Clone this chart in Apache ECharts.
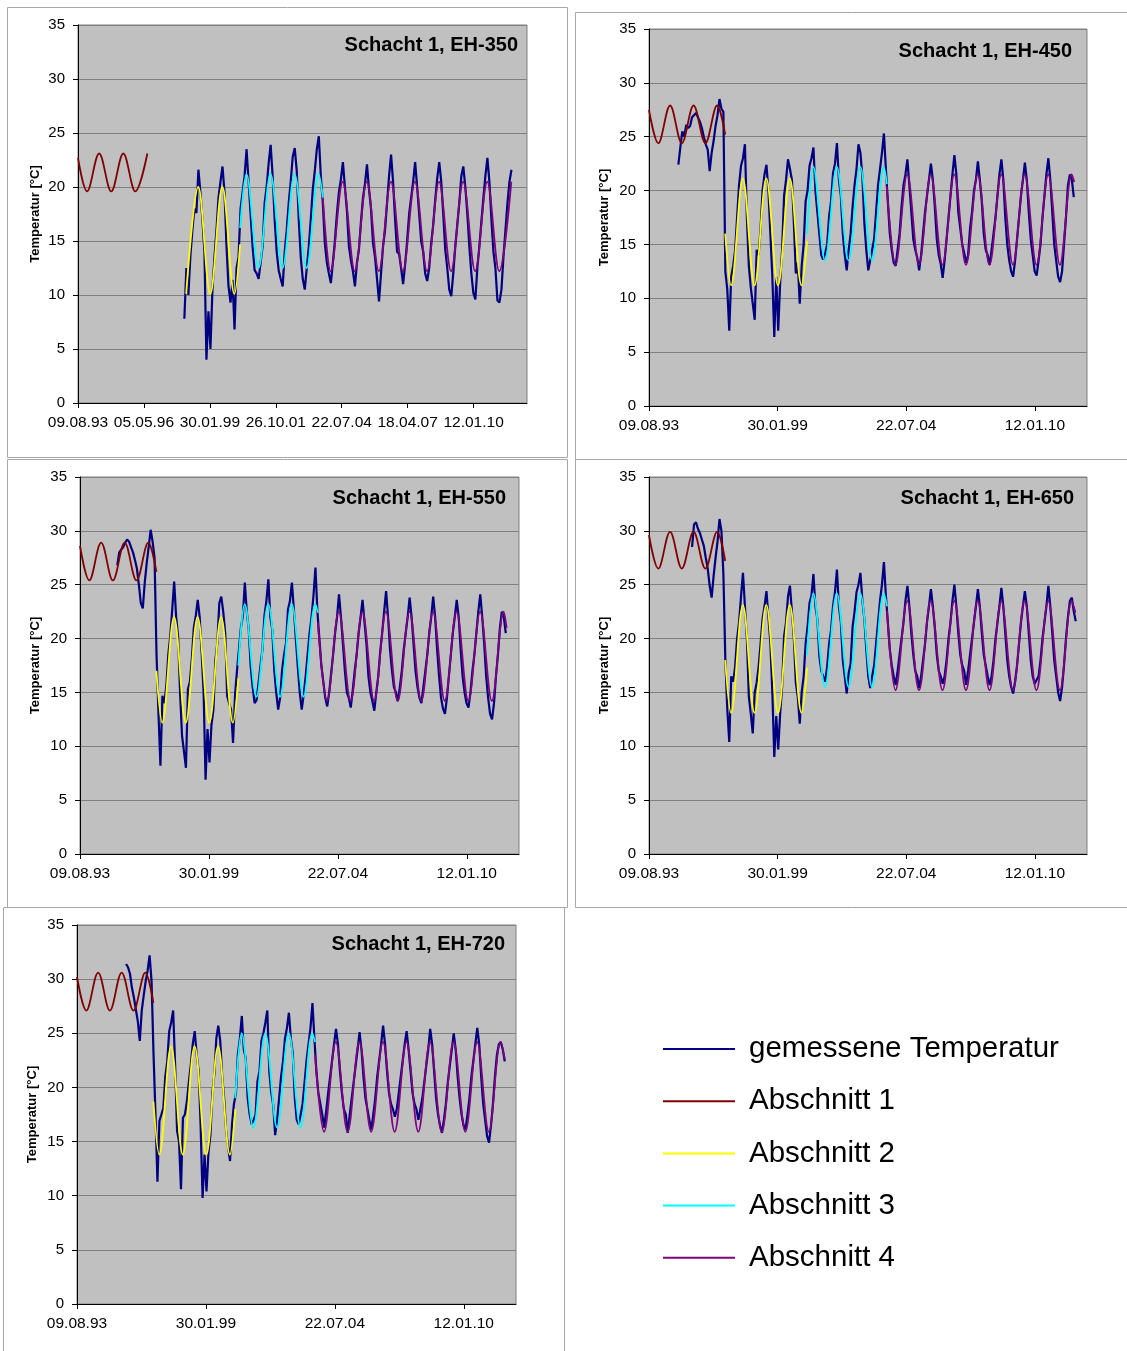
<!DOCTYPE html>
<html><head><meta charset="utf-8">
<script src="https://cdn.jsdelivr.net/npm/echarts/dist/echarts.min.js"></script>
<style>html,body{margin:0;padding:0;background:#fff}#c{width:1127px;height:1351px}</style>
</head><body><div id="c"></div>
<script>
// ---------- data ----------
const MONTH = 365.25 / 12;           // sampling step of the measured series (days)
const xTickLabels = ['09.08.93','05.05.96','30.01.99','26.10.01','22.07.04','18.04.07','12.01.10'];
const panelTitles = ['Schacht 1, EH-350','Schacht 1, EH-450','Schacht 1, EH-550','Schacht 1, EH-650','Schacht 1, EH-720'];
const legendNames = ['gemessene Temperatur','Abschnitt 1','Abschnitt 2','Abschnitt 3','Abschnitt 4'];

// measured temperature, monthly samples, first month index (months since 09.08.93)
const meas350Start = 53;
const meas350 = [
 7.8,12.5,10.0,13.6,16.0,18.0,17.6,21.6,19.5,17.0,14.0,4.0,
 8.5,5.0,10.5,13.5,16.0,19.0,20.5,21.9,19.5,14.5,10.8,9.3,
 11.4,6.8,12.5,13.5,18.0,19.5,21.0,23.5,20.5,17.5,14.5,12.3,
 12.0,11.5,13.0,14.5,18.5,20.0,22.2,23.9,21.0,17.0,14.0,12.3,
 11.5,10.8,14.0,16.0,18.5,20.5,22.8,23.6,21.5,17.0,13.5,11.5,
 10.5,12.5,14.5,17.0,19.8,21.5,23.5,24.7,21.0,18.5,14.8,13.0,
 12.0,11.1,13.0,15.0,17.5,19.5,20.7,22.3,20.0,17.8,14.5,13.2,
 12.2,10.8,13.0,14.2,16.8,19.0,20.3,22.1,19.8,18.0,14.8,13.5,
 11.5,9.4,12.0,14.5,16.0,18.5,21.0,23.0,20.5,17.0,14.0,13.8,
 12.5,11.0,12.8,15.0,17.5,19.0,20.5,22.3,20.0,17.5,15.0,14.0,
 12.0,11.3,12.5,14.8,16.5,18.8,20.8,22.3,20.5,17.5,14.2,12.5,
 10.5,9.9,12.0,14.5,16.5,18.5,21.0,21.9,20.0,17.5,14.5,12.0,
 10.2,9.6,12.5,14.5,16.8,19.0,21.0,22.7,20.5,17.0,14.0,12.5,
 9.5,9.3,10.5,13.5,16.0,18.5,20.5,21.6];
const meas450Start = 15;
const meas450 = [
 22.4,24.0,25.5,25.0,26.1,25.8,26.0,26.8,26.9,27.2,26.8,26.4,
 25.8,25.0,24.3,23.8,21.8,23.5,24.6,26.0,27.0,28.5,27.6,27.3,
 12.5,10.8,7.0,12.0,13.0,14.5,17.5,20.5,22.3,23.0,24.3,17.5,
 13.0,11.0,9.5,8.0,14.5,14.0,16.5,20.0,21.5,22.4,20.0,16.0,
 12.0,6.4,12.0,7.0,11.5,14.5,19.5,21.0,22.9,22.0,21.0,17.0,
 12.3,13.3,9.5,13.0,15.0,19.0,20.0,22.3,23.0,24.0,20.0,18.0,
 16.0,14.0,13.6,14.2,15.0,17.6,19.0,21.6,22.5,24.4,21.0,19.5,
 16.0,14.0,12.6,14.5,16.0,18.5,20.5,22.0,24.3,23.5,21.3,17.0,
 14.5,12.6,13.5,14.5,15.5,18.0,20.5,22.0,23.5,25.3,22.0,19.0,
 16.0,14.5,13.3,13.0,14.5,16.0,18.5,20.5,21.5,22.9,20.5,18.0,
 15.5,14.5,13.8,12.6,14.0,16.0,18.0,19.5,21.0,22.5,21.0,18.5,
 15.5,14.0,13.2,11.9,13.5,15.5,17.5,19.5,21.5,23.3,21.5,18.0,
 16.5,15.0,14.2,13.3,14.0,16.5,18.0,20.0,21.0,22.7,21.0,19.0,
 16.0,14.5,14.0,13.1,14.5,16.0,17.5,19.5,21.5,22.9,21.0,17.5,
 15.0,13.5,12.5,12.0,13.5,15.5,17.5,19.5,21.0,22.6,21.0,18.0,
 15.5,14.0,12.5,12.1,13.5,15.0,17.5,19.5,21.5,23.0,21.0,18.0,
 15.0,13.5,12.0,11.5,12.5,15.0,17.5,20.5,21.5,21.0,19.4];
const meas550Start = 19;
const meas550 = [
 26.8,28.0,27.9,28.5,28.9,29.2,29.0,28.5,28.0,27.3,26.5,25.0,
 23.3,22.8,25.2,27.0,28.5,30.1,29.0,27.5,18.5,13.0,8.2,14.7,
 14.0,15.6,18.5,20.2,22.7,25.3,22.0,20.2,15.0,11.0,9.5,8.0,
 15.3,16.0,18.1,21.0,22.1,23.6,22.0,18.7,15.0,6.9,11.6,8.5,
 12.0,13.4,18.0,19.6,23.3,23.9,22.5,20.5,14.7,14.0,13.4,10.3,
 14.7,17.0,19.0,21.0,22.1,25.2,22.5,20.8,17.4,15.5,14.0,14.3,
 15.9,17.5,19.0,22.1,23.5,25.5,22.0,20.8,17.1,15.0,13.4,14.5,
 17.1,18.5,19.6,22.7,23.5,25.2,22.7,20.0,17.4,15.0,13.4,14.8,
 16.5,18.5,20.5,22.0,24.0,26.6,22.5,20.0,17.5,16.0,14.5,13.7,
 15.0,16.8,18.5,20.5,22.0,24.1,22.0,19.5,17.0,15.0,14.5,13.6,
 15.2,17.0,18.5,20.5,22.0,23.6,21.5,19.5,16.5,15.0,14.2,13.3,
 15.0,16.5,18.8,20.5,22.5,24.4,22.0,19.0,17.0,15.5,15.0,14.2,
 15.5,17.0,19.0,20.5,22.0,23.8,22.0,19.5,17.0,15.5,14.5,14.0,
 15.5,17.0,18.5,20.5,22.0,23.9,22.0,19.0,16.5,14.5,13.5,13.0,
 14.5,16.5,18.5,20.5,22.0,23.6,22.0,19.0,16.5,15.0,14.0,13.6,
 15.0,17.0,18.5,20.5,22.5,24.1,22.0,19.5,16.5,14.5,13.0,12.5,
 14.0,16.5,18.5,21.0,22.5,22.0,20.5];
const meas650Start = 22;
const meas650 = [
 28.5,30.6,30.8,30.2,29.8,29.2,28.6,27.5,26.5,24.9,23.8,25.8,
 27.5,29.0,31.1,30.0,26.0,18.0,13.4,10.4,16.5,16.0,17.4,20.0,
 21.5,23.9,26.1,23.0,20.0,14.6,13.0,11.2,15.0,15.9,17.4,19.5,
 21.8,23.0,24.4,22.0,19.6,15.0,9.0,12.8,9.7,13.0,15.5,20.2,
 21.5,23.9,24.9,22.5,20.0,15.9,14.6,12.1,15.0,16.5,19.5,21.1,
 23.3,24.0,26.0,23.0,21.8,18.4,17.0,16.5,16.0,17.4,19.5,20.8,
 23.0,24.3,26.4,23.0,21.5,18.0,16.5,14.9,16.8,17.7,21.1,22.5,
 24.3,25.0,26.1,23.5,21.8,19.0,16.5,15.4,16.5,17.5,19.5,21.5,
 23.5,25.0,27.1,24.0,21.5,19.0,17.5,16.5,15.7,17.0,18.5,20.0,
 21.5,23.5,24.9,23.0,20.5,18.5,17.0,16.5,15.4,16.5,18.0,19.5,
 21.5,23.0,24.6,23.0,21.0,18.5,17.0,16.5,15.8,16.5,18.0,20.0,
 21.5,23.5,25.0,23.0,20.5,18.5,17.5,17.0,15.7,17.0,18.5,20.0,
 21.5,23.0,24.6,23.0,20.5,18.5,17.5,16.5,15.7,16.5,18.0,20.0,
 21.5,23.0,24.7,23.0,20.5,18.0,16.5,15.5,14.9,16.0,17.5,19.5,
 21.5,23.0,24.4,23.0,20.5,18.0,16.5,15.8,15.7,16.5,18.0,20.0,
 21.5,23.0,24.9,23.0,20.5,18.0,16.5,15.0,14.2,15.5,17.5,20.0,
 22.0,23.5,23.8,22.5,21.6];
const meas720Start = 25;
const meas720 = [
 31.4,31.1,30.5,29.2,28.3,27.2,26.1,24.3,27.1,28.5,29.8,30.8,
 32.2,29.8,23.1,17.5,11.3,16.9,17.0,18.1,21.0,22.4,25.2,26.0,
 27.1,22.1,16.0,15.0,10.6,17.2,17.5,18.7,20.5,22.1,24.0,25.2,
 23.0,21.5,16.5,9.8,13.8,10.4,14.0,15.6,19.5,21.2,24.5,25.7,
 24.3,21.0,19.0,16.0,14.5,13.2,16.6,18.5,19.4,23.1,24.5,26.6,
 23.5,22.7,19.0,17.5,16.6,17.0,17.5,20.6,21.5,24.3,25.0,26.0,
 27.1,21.5,19.5,18.4,15.6,17.0,19.0,21.0,22.4,24.5,25.5,26.9,
 24.5,23.1,19.0,17.0,16.6,17.5,18.5,20.5,22.5,24.0,25.5,27.8,
 24.5,21.5,19.5,18.5,17.5,16.3,17.8,19.5,21.0,22.5,24.0,25.4,
 24.0,21.5,19.5,18.0,17.5,15.8,17.5,19.0,20.5,22.0,23.5,25.1,
 23.5,21.0,19.0,18.0,17.0,16.1,17.5,19.0,21.0,22.5,24.0,25.7,
 24.0,21.5,19.5,18.5,18.0,17.3,18.0,19.5,21.0,22.5,24.0,25.2,
 23.5,21.5,19.5,18.5,18.0,17.0,18.0,19.0,20.5,22.0,23.5,25.4,
 24.0,21.5,19.0,17.5,16.5,15.8,17.0,18.5,20.5,22.0,23.5,25.0,
 23.5,21.0,19.0,17.5,16.5,16.1,17.5,19.0,21.0,22.5,24.0,25.5,
 24.0,21.0,18.5,17.0,15.5,14.9,16.5,18.5,21.0,23.0,24.0,24.2,
 23.5,22.4];

// fitted curves: [day since 09.08.93, temperature] at peaks / troughs and segment ends
const fit1_350 = [[0,22.7],[138,19.6],[321,23.1],[504,19.6],[687,23.1],[869,19.6],[1052,23.1]];
const fit2_350 = [[1641,10.1],[1824,20.0],[2006,10.1],[2189,20.0],[2372,10.1],[2459,14.7]];
const fit3_350 = [[2459,16.2],[2555,21.2],[2737,12.5],[2920,21.2],[3103,12.5],[3285,21.2],[3468,12.5],[3651,21.2],[3713,19.0]];
const fit4_350 = [[3713,19.0],[3833,12.2],[4015,20.5],[4198,12.2],[4380,20.5],[4563,12.2],[4746,20.5],[4928,12.2],[5111,20.5],[5294,12.2],[5476,20.5],[5659,12.2],[5841,20.5],[6024,12.2],[6207,20.5],[6389,12.2],[6572,20.5]];

const fit1_450 = [[0,27.5],[145,24.4],[328,27.9],[510,24.4],[693,27.9],[876,24.4],[1059,27.9],[1185,25.2]];
const fit2_450 = [[1185,16.0],[1276,11.2],[1459,21.1],[1641,11.2],[1824,21.1],[2006,11.2],[2189,21.1],[2372,11.2],[2457,15.3]];
const fit3_450 = [[2457,16.0],[2555,22.2],[2737,13.5],[2920,22.2],[3103,13.5],[3285,22.2],[3468,13.5],[3651,22.2],[3697,20.6]];
const fit4_450 = [[3697,20.4],[3833,13.1],[4015,21.5],[4198,13.1],[4380,21.5],[4563,13.1],[4746,21.5],[4928,13.1],[5111,21.5],[5294,13.1],[5476,21.5],[5659,13.1],[5841,21.5],[6024,13.1],[6207,21.5],[6389,13.1],[6572,21.5],[6612,20.8]];

const fit1_550 = [[0,28.6],[145,25.4],[328,28.9],[510,25.4],[693,28.9],[876,25.4],[1059,28.9],[1185,26.2]];
const fit2_550 = [[1185,17.0],[1276,12.2],[1459,22.0],[1641,12.2],[1824,22.0],[2006,12.2],[2189,22.0],[2372,12.2],[2457,16.3]];
const fit3_550 = [[2457,17.5],[2555,23.2],[2737,14.6],[2920,23.2],[3103,14.6],[3285,23.2],[3468,14.6],[3651,23.2],[3690,22.4]];
const fit4_550 = [[3690,21.5],[3833,14.2],[4015,22.5],[4198,14.2],[4380,22.5],[4563,14.2],[4746,22.5],[4928,14.2],[5111,22.5],[5294,14.2],[5476,22.5],[5659,14.2],[5841,22.5],[6024,14.2],[6207,22.5],[6389,14.2],[6572,22.5],[6618,21.0]];

const fit1_650 = [[0,29.6],[145,26.5],[328,29.9],[510,26.5],[693,29.9],[876,26.5],[1059,29.9],[1185,27.2]];
const fit2_650 = [[1185,18.0],[1276,13.1],[1459,23.1],[1641,13.1],[1824,23.1],[2006,13.1],[2189,23.1],[2372,13.1],[2457,17.3]];
const fit3_650 = [[2457,18.5],[2555,24.2],[2737,15.5],[2920,24.2],[3103,15.5],[3285,24.2],[3468,15.5],[3651,24.2],[3700,23.0]];
const fit4_650 = [[3700,22.6],[3833,15.2],[4015,23.5],[4198,15.2],[4380,23.5],[4563,15.2],[4746,23.5],[4928,15.2],[5111,23.5],[5294,15.2],[5476,23.5],[5659,15.2],[5841,23.5],[6024,15.2],[6207,23.5],[6389,15.2],[6572,23.5],[6630,22.4]];

const fit1_720 = [[0,30.2],[145,27.1],[328,30.6],[510,27.1],[693,30.6],[876,27.1],[1059,30.6],[1185,27.8]];
const fit2_720 = [[1185,18.7],[1276,13.8],[1459,23.8],[1641,13.8],[1824,23.8],[2006,13.8],[2189,23.8],[2372,13.8],[2457,18.0]];
const fit3_720 = [[2457,19.0],[2555,25.0],[2737,16.3],[2920,25.0],[3103,16.3],[3285,25.0],[3468,16.3],[3651,25.0],[3694,24.2]];
const fit4_720 = [[3694,23.0],[3833,15.9],[4015,24.2],[4198,15.9],[4380,24.2],[4563,15.9],[4746,24.2],[4928,15.9],[5111,24.2],[5294,15.9],[5476,24.2],[5659,15.9],[5841,24.2],[6024,15.9],[6207,24.2],[6389,15.9],[6572,24.2],[6636,22.6]];

// ---------- layout / style ----------
const FONT = "'Liberation Sans', Arial, Helvetica, sans-serif";
const colMeas = '#000080';
const fitColors = ['#800000', '#ffff00', '#00ffff', '#800080'];
const panelData = [
  {start: meas350Start, meas: meas350, fits: [fit1_350, fit2_350, fit3_350, fit4_350]},
  {start: meas450Start, meas: meas450, fits: [fit1_450, fit2_450, fit3_450, fit4_450]},
  {start: meas550Start, meas: meas550, fits: [fit1_550, fit2_550, fit3_550, fit4_550]},
  {start: meas650Start, meas: meas650, fits: [fit1_650, fit2_650, fit3_650, fit4_650]},
  {start: meas720Start, meas: meas720, fits: [fit1_720, fit2_720, fit3_720, fit4_720]}
];
const layouts = [
  {grid: {left: 78, top: 25, width: 449, height: 378}, step: 1000, nameGap: 36, tRight: 609, tTop: 35},
  {grid: {left: 649, top: 29, width: 438, height: 377}, step: 2000, nameGap: 38, tRight: 55, tTop: 41},
  {grid: {left: 80, top: 477, width: 439, height: 377}, step: 2000, nameGap: 38, tRight: 621, tTop: 488},
  {grid: {left: 649, top: 477, width: 438, height: 377}, step: 2000, nameGap: 38, tRight: 53, tTop: 488},
  {grid: {left: 77, top: 925, width: 439, height: 379}, step: 2000, nameGap: 38, tRight: 622, tTop: 934}
];
const frames = [
  [7.5, 7.5, 560, 450], [575.5, 12.5, 600, 447], [7.5, 459.5, 560, 448],
  [575.5, 459.5, 600, 448], [3.5, 907.5, 561, 500]
];

const grids = [], xAxes = [], yAxes = [], titles = [], series = [];
layouts.forEach((L, i) => {
  grids.push(Object.assign({show: true, backgroundColor: '#c0c0c0', borderColor: '#808080', borderWidth: 1, containLabel: false}, L.grid));
  const ticks = [];
  for (let v = 0; v <= 6000; v += L.step) ticks.push(v);
  xAxes.push({
    type: 'value', gridIndex: i, min: 0, max: 6810, interval: L.step,
    axisLine: {show: true, onZero: false, lineStyle: {color: '#000', width: 1}},
    axisTick: {show: true, length: 5, lineStyle: {color: '#000'}, customValues: ticks},
    axisLabel: {color: '#000', fontSize: 15.5, fontFamily: FONT, margin: 12, customValues: ticks,
      formatter: v => (v % 1000 === 0 && xTickLabels[v / 1000]) ? xTickLabels[v / 1000] : ''},
    splitLine: {show: false}
  });
  yAxes.push({
    type: 'value', gridIndex: i, min: 0, max: 35, interval: 5,
    name: 'Temperatur [°C]', nameLocation: 'middle', nameGap: L.nameGap,
    nameTextStyle: {color: '#000', fontSize: 13, fontWeight: 'bold', fontFamily: FONT},
    axisLine: {show: true, lineStyle: {color: '#000', width: 1}},
    axisTick: {show: true, length: 5, lineStyle: {color: '#000'}},
    axisLabel: {color: '#000', fontSize: 15, fontFamily: FONT, margin: 13},
    splitLine: {show: true, lineStyle: {color: '#808080', width: 1}}
  });
  titles.push({text: panelTitles[i], right: L.tRight, top: L.tTop, padding: 0,
    textStyle: {color: '#000', fontSize: 20, fontWeight: 'bold', fontFamily: FONT}});
  const P = panelData[i];
  series.push({
    name: legendNames[0], type: 'line', xAxisIndex: i, yAxisIndex: i,
    data: P.meas.map((v, k) => [(P.start + k) * MONTH, v]),
    showSymbol: false, symbol: 'none', z: 2,
    lineStyle: {color: colMeas, width: 2.2, join: 'bevel'}, itemStyle: {color: colMeas}
  });
  P.fits.forEach((f, j) => {
    series.push({
      name: legendNames[j + 1], type: 'line', xAxisIndex: i, yAxisIndex: i,
      data: f, smooth: 0.36, showSymbol: false, symbol: 'none', z: 3,
      lineStyle: {color: fitColors[j], width: 1.8}, itemStyle: {color: fitColors[j]}
    });
  });
});

const chart = echarts.init(document.getElementById('c'), null, {renderer: 'canvas'});
chart.setOption({
  animation: false,
  backgroundColor: '#ffffff',
  title: titles,
  grid: grids,
  xAxis: xAxes,
  yAxis: yAxes,
  legend: {
    data: legendNames, orient: 'vertical', left: 658, top: 1029,
    itemWidth: 72, itemHeight: 2, itemGap: 22.2, icon: 'rect', selectedMode: false,
    textStyle: {color: '#000', fontSize: 29.5, fontFamily: FONT, padding: [0, 0, 0, 9]}
  },
  graphic: frames.map(r => ({
    type: 'rect', silent: true, z: -1,
    shape: {x: r[0], y: r[1], width: r[2], height: r[3]},
    style: {fill: 'none', stroke: '#a8a8a8', lineWidth: 1}
  })),
  series: series
});
</script></body></html>
